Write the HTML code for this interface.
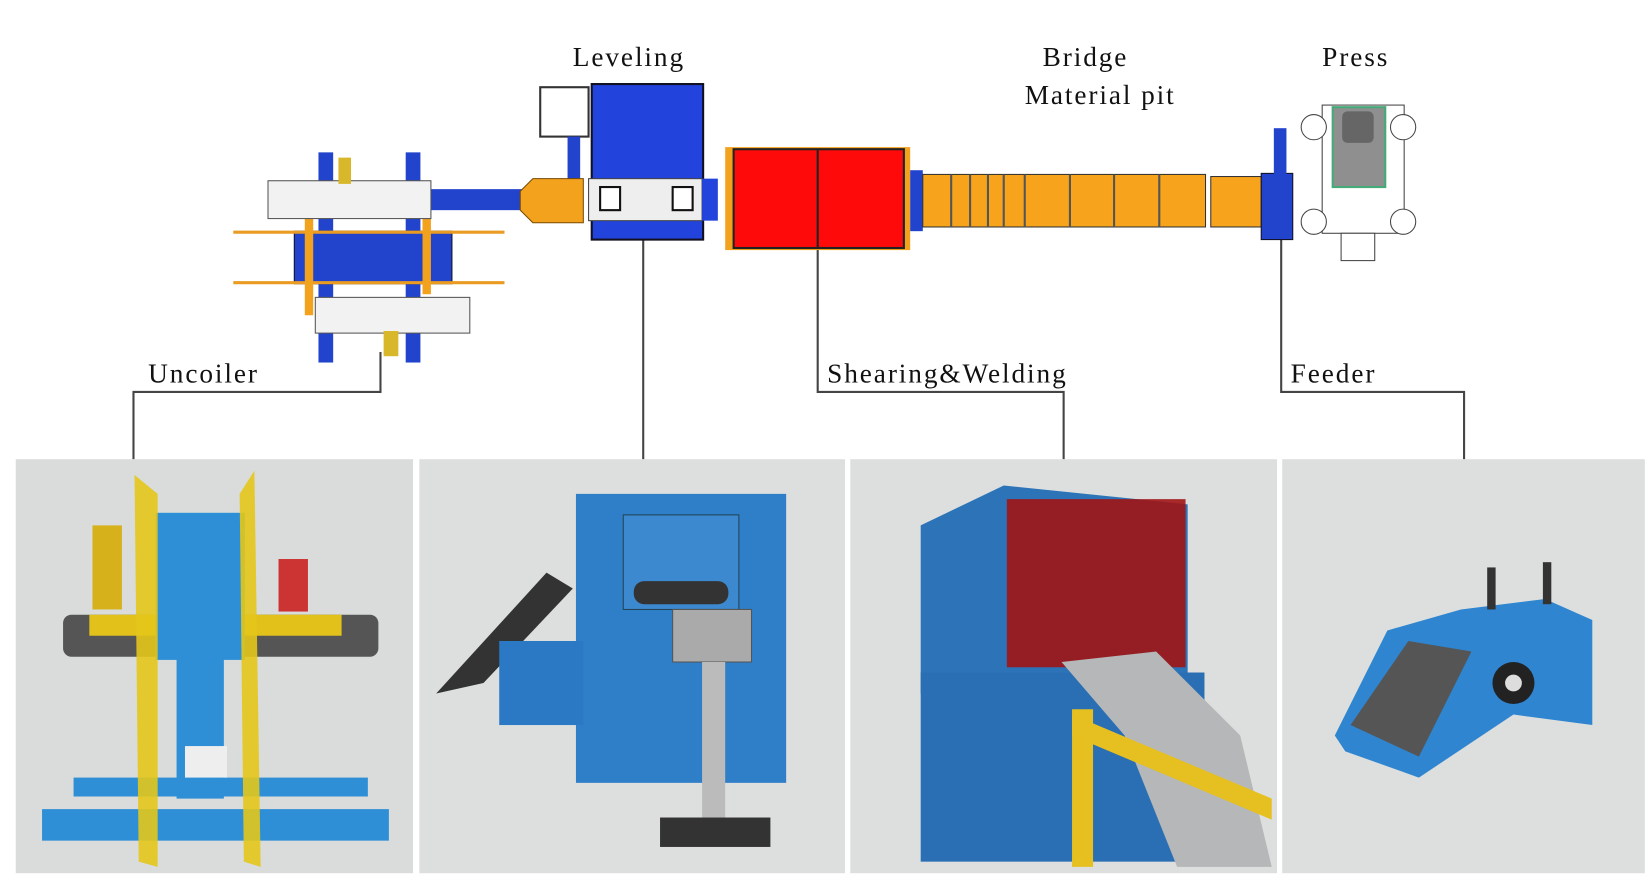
<!DOCTYPE html>
<html><head><meta charset="utf-8"><style>
html,body{margin:0;padding:0;background:#fff;overflow:hidden;width:1648px;height:889px}
#w{position:absolute;left:0;top:0;width:1568px;height:846px;transform-origin:0 0;transform:scale(1.05102,1.0508)}
svg{position:absolute;left:0;top:0}
text{font-family:"Liberation Serif",serif;font-size:26px;letter-spacing:1.8px;fill:#111}
</style></head><body><div id="w">
<svg width="1568" height="846" viewBox="0 0 1568 846">
<!-- labels -->
<text x="545" y="63">Leveling</text>
<text x="992" y="63">Bridge</text>
<text x="975" y="99">Material pit</text>
<text x="1258" y="63">Press</text>
<text x="141" y="364">Uncoiler</text>
<text x="787" y="364">Shearing&amp;Welding</text>
<text x="1228" y="364">Feeder</text>
<!-- connectors -->
<g fill="none" stroke="#444" stroke-width="2">
<polyline points="362,335 362,373 127,373 127,437"/>
<line x1="612" y1="225" x2="612" y2="437"/>
<polyline points="778,237 778,373 1012,373 1012,437"/>
<polyline points="1219,228 1219,373 1393,373 1393,437"/>
</g>
<!-- uncoiler drawing -->
<rect x="303" y="145" width="14" height="200" fill="#2244cc"/>
<rect x="386" y="145" width="14" height="200" fill="#2244cc"/>
<rect x="280" y="220" width="150" height="50" fill="#2244cc" stroke="#112" stroke-width="1"/>
<rect x="405" y="180" width="95" height="20" fill="#2244cc"/>
<line x1="222" y1="221" x2="480" y2="221" stroke="#e99b22" stroke-width="3"/>
<line x1="222" y1="269" x2="480" y2="269" stroke="#e99b22" stroke-width="3"/>
<rect x="290" y="200" width="8" height="100" fill="#f3a21e"/>
<rect x="402" y="200" width="8" height="80" fill="#f3a21e"/>
<rect x="255" y="172" width="155" height="36" fill="#f2f2f2" stroke="#555"/>
<rect x="300" y="283" width="147" height="34" fill="#f2f2f2" stroke="#555"/>
<rect x="322" y="150" width="12" height="25" fill="#d8b82a"/>
<rect x="365" y="315" width="14" height="24" fill="#d8b82a"/>
<!-- leveling -->
<rect x="514" y="83" width="46" height="47" fill="#fff" stroke="#333" stroke-width="2"/>
<rect x="540" y="130" width="12" height="50" fill="#2244cc"/>
<rect x="563" y="80" width="106" height="148" fill="#2244dd" stroke="#112" stroke-width="2"/>
<rect x="560" y="170" width="108" height="40" fill="#eee" stroke="#444"/>
<rect x="571" y="178" width="19" height="22" fill="#fff" stroke="#111" stroke-width="2"/>
<rect x="640" y="178" width="19" height="22" fill="#fff" stroke="#111" stroke-width="2"/>
<rect x="668" y="170" width="15" height="40" fill="#2244dd"/>
<polygon points="495,182 507,170 555,170 555,212 507,212 495,200" fill="#f3a21e" stroke="#7a4a00"/>
<!-- shearing -->
<rect x="690" y="140" width="176" height="98" fill="#f3a21e"/>
<rect x="698" y="142" width="162" height="94" fill="#ff0a0a" stroke="#222" stroke-width="2"/>
<line x1="778" y1="142" x2="778" y2="236" stroke="#222" stroke-width="2"/>
<!-- bridge -->
<rect x="866" y="162" width="12" height="58" fill="#2244cc"/>
<rect x="878" y="166" width="269" height="50" fill="#f7a41c" stroke="#333"/>
<g stroke="#555" stroke-width="2">
<line x1="905" y1="166" x2="905" y2="216"/><line x1="923" y1="166" x2="923" y2="216"/><line x1="940" y1="166" x2="940" y2="216"/><line x1="955" y1="166" x2="955" y2="216"/><line x1="975" y1="166" x2="975" y2="216"/><line x1="1018" y1="166" x2="1018" y2="216"/><line x1="1060" y1="166" x2="1060" y2="216"/><line x1="1103" y1="166" x2="1103" y2="216"/>
</g>
<rect x="1152" y="168" width="48" height="48" fill="#f7a41c" stroke="#333"/>
<rect x="1200" y="165" width="30" height="63" fill="#2244cc" stroke="#112"/>
<rect x="1212" y="122" width="12" height="45" fill="#2244cc"/>
<!-- press -->
<rect x="1258" y="100" width="78" height="122" fill="#fff" stroke="#444"/>
<rect x="1268" y="102" width="50" height="76" fill="#8f8f8f" stroke="#4a7" stroke-width="2"/>
<rect x="1277" y="106" width="30" height="30" rx="5" fill="#666"/>
<circle cx="1250" cy="121" r="12" fill="#fff" stroke="#444"/><circle cx="1335" cy="121" r="12" fill="#fff" stroke="#444"/>
<circle cx="1250" cy="211" r="12" fill="#fff" stroke="#444"/><circle cx="1335" cy="211" r="12" fill="#fff" stroke="#444"/>
<rect x="1276" y="222" width="32" height="26" fill="#fff" stroke="#444"/>
<!-- photo panels -->
<rect x="15" y="437" width="378" height="394" fill="#d9dcda"/>
<rect x="399" y="437" width="405" height="394" fill="#dcdfdd"/>
<rect x="809" y="437" width="406" height="394" fill="#dcdfdd"/>
<rect x="1220" y="437" width="345" height="394" fill="#dcdfdd"/>
<!-- uncoiler photo -->
<rect x="40" y="770" width="330" height="30" fill="#2e8fd6"/>
<rect x="70" y="740" width="280" height="18" fill="#2e8fd6"/>
<rect x="60" y="585" width="300" height="40" rx="8" fill="#555"/>
<rect x="85" y="585" width="240" height="20" fill="#e2c21a"/>
<rect x="148" y="488" width="85" height="140" fill="#2e8fd6"/>
<rect x="168" y="620" width="45" height="140" fill="#2e8fd6"/>
<polygon points="128,452 150,470 150,825 132,820" fill="#e3c61a" opacity="0.9"/>
<polygon points="242,448 248,825 232,820 228,470" fill="#e3c61a" opacity="0.9"/>
<rect x="88" y="500" width="28" height="80" fill="#d7b11c"/>
<rect x="265" y="532" width="28" height="50" fill="#c33"/>
<rect x="176" y="710" width="40" height="30" fill="#eee"/>
<!-- leveling photo -->
<rect x="548" y="470" width="200" height="275" fill="#2f7ec8"/>
<rect x="593" y="490" width="110" height="90" fill="#3c89cf" stroke="#245" />
<rect x="603" y="553" width="90" height="22" rx="10" fill="#333"/>
<polygon points="415,660 520,545 545,560 460,650" fill="#333"/>
<rect x="475" y="610" width="80" height="80" fill="#2b78c4"/>
<rect x="640" y="580" width="75" height="50" fill="#aaa" stroke="#555"/>
<rect x="668" y="630" width="22" height="150" fill="#bbb"/>
<rect x="628" y="778" width="105" height="28" fill="#333"/>
<!-- shearing photo -->
<polygon points="876,500 955,462 1130,480 1130,640 876,660" fill="#2d73b8"/>
<rect x="958" y="475" width="170" height="160" fill="#a11515" opacity="0.9"/>
<rect x="876" y="640" width="270" height="180" fill="#2a6fb3"/>
<polygon points="1010,630 1100,620 1180,700 1210,825 1120,825 1070,700" fill="#b5b7b8"/>
<polygon points="1020,675 1040,675 1040,825 1020,825" fill="#e6c020"/>
<polygon points="1020,680 1210,760 1210,780 1020,700" fill="#e6c020"/>
<!-- feeder photo -->
<polygon points="1270,700 1320,600 1390,580 1470,570 1515,590 1515,690 1440,680 1350,740 1280,715" fill="#2f85d0"/>
<polygon points="1285,690 1340,610 1400,620 1350,720" fill="#555"/>
<circle cx="1440" cy="650" r="20" fill="#222"/><circle cx="1440" cy="650" r="8" fill="#ddd"/>
<rect x="1415" y="540" width="8" height="40" fill="#333"/><rect x="1468" y="535" width="8" height="40" fill="#333"/>
</svg>
</div></body></html>
